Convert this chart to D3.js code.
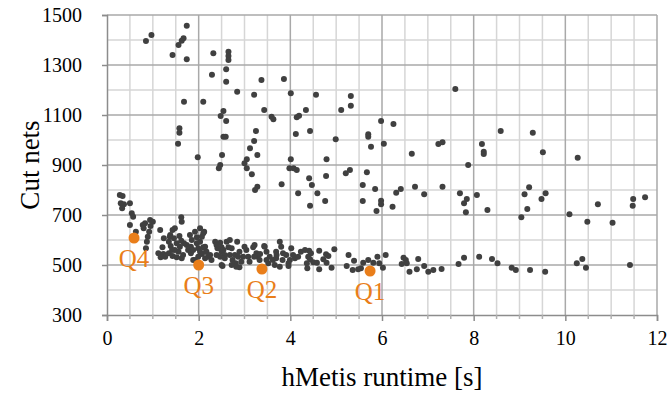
<!DOCTYPE html>
<html>
<head>
<meta charset="utf-8">
<script src="https://cdn.jsdelivr.net/npm/d3@7"></script>
<style>
  html, body { margin: 0; padding: 0; background: #fff; }
</style>
</head>
<body>
<svg id="chart" width="668" height="395"></svg>
<script>
// runtime [s] and cut nets for each hMetis run
const runtime = [
  1.74, 0.97, 0.85, 1.67, 1.63, 1.56, 1.43, 1.74, 2.32, 2.65, 2.65, 2.65, 2.60, 2.29, 2.60, 2.84,
  3.37, 3.86, 3.21, 4.01, 1.68, 2.10, 2.54, 2.48, 2.60, 3.43, 3.59, 3.63, 4.14, 4.19, 1.58, 1.58,
  1.55, 2.54, 2.59, 3.25, 3.21, 3.12, 3.28, 4.12, 1.98, 2.51, 3.05, 3.00, 4.01, 2.47, 2.44, 3.05,
  3.98, 4.56, 5.32, 5.32, 4.34, 5.11, 4.43, 4.99, 5.70, 5.70, 5.76, 5.98, 6.25, 6.04, 7.60, 6.65,
  7.23, 7.32, 8.18, 8.22, 8.22, 7.88, 4.79, 4.07, 4.14, 5.30, 8.59, 9.29, 9.51, 10.27, 3.16, 3.28,
  3.23, 3.81, 4.17, 4.41, 4.47, 4.78, 4.59, 4.43, 4.76, 5.21, 5.67, 5.58, 5.85, 5.58, 5.98, 5.98,
  5.88, 6.23, 6.31, 6.41, 6.72, 6.92, 7.32, 7.70, 7.79, 7.85, 7.83, 8.07, 8.30, 9.11, 9.21, 9.17,
  9.04, 9.48, 9.57, 10.09, 10.48, 10.71, 11.03, 11.48, 11.47, 11.74,
  0.28, 0.34, 0.30, 0.37, 0.33, 0.50, 0.54, 0.57, 0.50, 0.63, 0.78, 0.83, 0.94, 1.00, 0.95, 0.92,
  0.89, 0.87, 0.85, 0.80, 1.16, 1.24, 1.38, 1.35, 1.21, 1.12, 1.23, 1.17, 1.35, 1.27,
  1.37, 1.43, 1.48, 1.46, 1.39, 1.42, 1.43, 1.52, 1.56, 1.59, 1.62, 1.58, 1.68, 1.62, 1.63,
  1.52, 1.66, 1.63, 1.74, 1.77, 1.83, 1.48,
  1.81, 1.85, 1.83, 1.88, 1.88, 1.92, 1.96, 2.03, 2.07, 2.12, 2.03, 2.10, 2.16, 2.07, 2.21, 2.28,
  1.96, 1.99, 2.14, 2.03, 1.99, 1.92, 2.17, 2.25, 2.14, 2.10,
  2.36, 2.41, 2.47, 2.50, 2.52, 2.61, 2.65, 2.57, 2.68, 2.74, 2.81, 2.84, 2.89,
  2.39, 2.50, 2.39, 2.47, 2.57, 2.54, 2.68, 2.72, 2.79, 2.50, 2.72,
  3.00, 3.04, 2.89, 2.97, 2.86, 3.08, 3.11, 2.93, 2.82, 3.22, 3.26, 3.29, 3.33, 3.44, 3.48, 3.55,
  3.48, 3.62, 3.69, 3.77, 3.80, 3.69, 3.84, 3.91, 4.02, 4.06, 3.99, 4.10, 3.96, 3.66, 3.77, 4.17,
  3.19, 3.21, 3.34, 3.43, 3.52, 3.70, 3.83, 3.96,
  4.23, 4.32, 4.41, 4.45, 4.39, 4.43, 4.36, 4.37, 4.50, 4.58, 4.63, 4.63, 4.78, 4.83, 4.72, 4.79,
  4.90, 4.96, 5.27, 5.23, 5.36, 5.39, 5.48, 5.54, 5.59, 5.70, 5.81, 5.90, 5.94, 6.02, 6.08, 6.47,
  6.52, 6.43, 6.54, 6.60, 6.76, 6.79, 6.92, 7.01, 7.12, 7.30, 7.67, 7.79, 8.12, 8.40, 8.52, 8.83,
  8.92, 9.23, 9.56, 10.25, 10.37, 10.45, 11.41
];
const cutNets = [
  1457, 1420, 1396, 1407, 1397, 1380, 1340, 1323, 1347, 1353, 1336, 1320, 1283, 1261, 1233, 1193,
  1240, 1244, 1181, 1187, 1153, 1153, 1116, 1096, 1076, 1120, 1093, 1083, 1091, 1097, 1047, 1029,
  985, 1013, 1013, 1036, 996, 967, 940, 1024, 931, 940, 923, 907, 923, 900, 887, 887,
  887, 1181, 1176, 1137, 1120, 1120, 1036, 1003, 1023, 1013, 973, 1076, 1064, 985, 1204, 945,
  984, 991, 984, 953, 944, 900, 923, 887, 880, 880, 1036, 1029, 951, 929, 863, 813,
  800, 823, 787, 847, 820, 856, 787, 737, 756, 867, 871, 820, 804, 756, 757, 743,
  716, 733, 789, 804, 813, 783, 813, 787, 747, 764, 711, 780, 720, 783, 811, 724,
  691, 764, 787, 703, 673, 743, 669, 764, 737, 771,
  780, 776, 747, 743, 727, 747, 707, 693, 660, 633, 660, 667, 680, 673, 656, 633,
  613, 593, 567, 647, 640, 607, 620, 593, 571, 547, 544, 531, 547, 533,
  613, 640, 647, 607, 576, 560, 536, 531, 553, 573, 597, 616, 587, 691, 673,
  587, 540, 527, 580, 560, 547, 560,
  620, 600, 573, 560, 520, 633, 611, 647, 613, 633, 593, 571, 553, 544, 533, 520,
  587, 567, 573, 553, 533, 520, 553, 540, 527, 627,
  593, 567, 589, 571, 496, 593, 571, 540, 540, 520, 507, 593, 491,
  580, 553, 540, 533, 527, 560, 600, 567, 540, 500, 500,
  573, 560, 553, 533, 533, 533, 513, 513, 493, 580, 547, 533, 520, 573, 553, 533,
  520, 520, 527, 593, 573, 553, 547, 540, 567, 540, 520, 527, 507, 500, 493, 533,
  571, 533, 544, 576, 507, 540, 520, 496,
  553, 560, 557, 547, 533, 523, 507, 487, 511, 509, 557, 483, 543, 536, 523, 509,
  489, 563, 540, 496, 480, 517, 483, 487, 509, 520, 509, 533, 507, 489, 540, 529,
  520, 504, 507, 473, 483, 524, 496, 473, 480, 484, 504, 529, 533, 524, 507, 489,
  480, 480, 473, 507, 524, 489, 500
];

// highlighted quartile runs
const qLabels = ["Q4", "Q3", "Q2", "Q1"];
const qRuntime = [0.59, 2.0, 3.38, 5.74];
const qCutNets = [608, 500, 484, 476];

const xTicks = [0, 2, 4, 6, 8, 10, 12];
const yTicks = [300, 500, 700, 900, 1100, 1300, 1500];

const width = 668, height = 395;
const margin = { top: 15, right: 11, bottom: 80, left: 107 };
const serif = '"Times New Roman", "Liberation Serif", "DejaVu Serif", serif';

const svg = d3.select('#chart');

const x = d3.scaleLinear().domain([0, 12]).range([margin.left, width - margin.right]);
const y = d3.scaleLinear().domain([300, 1500]).range([height - margin.bottom, margin.top]);

// grid: light minor lines, darker ones at the labelled values
const minorX = d3.range(0.5, 12, 0.5).filter((v) => v % 2 !== 0);
const grid = svg.append('g');
grid.selectAll('line.vmin')
  .data(minorX)
  .join('line')
  .attr('x1', (d) => x(d)).attr('x2', (d) => x(d))
  .attr('y1', y(300)).attr('y2', y(1500))
  .attr('stroke', '#d6d6d6').attr('stroke-width', 1.5);
grid.selectAll('line.hmin')
  .data(d3.range(400, 1500, 200))
  .join('line')
  .attr('x1', x(0)).attr('x2', x(12))
  .attr('y1', (d) => y(d)).attr('y2', (d) => y(d))
  .attr('stroke', '#d6d6d6').attr('stroke-width', 1.5);
grid.selectAll('line.vmaj')
  .data(xTicks.slice(1))
  .join('line')
  .attr('x1', (d) => x(d)).attr('x2', (d) => x(d))
  .attr('y1', y(300)).attr('y2', y(1500))
  .attr('stroke', '#a9a9a9').attr('stroke-width', 1.5);
grid.selectAll('line.hmaj')
  .data(yTicks.slice(1))
  .join('line')
  .attr('x1', x(0)).attr('x2', x(12))
  .attr('y1', (d) => y(d)).attr('y2', (d) => y(d))
  .attr('stroke', '#a9a9a9').attr('stroke-width', 1.5);

// axes
const xAxis = svg.append('g')
  .attr('transform', `translate(0,${y(300)})`)
  .call(d3.axisBottom(x).tickValues(xTicks).tickSize(6).tickPadding(10).tickFormat(d3.format('d')));
const yAxis = svg.append('g')
  .attr('transform', `translate(${x(0)},0)`)
  .call(d3.axisLeft(y).tickValues(yTicks).tickSize(5).tickPadding(20).tickFormat(d3.format('d')));

[xAxis, yAxis].forEach((a) => {
  a.attr('font-family', serif).attr('font-size', 20);
  a.select('.domain').attr('stroke', '#8c8c8c').attr('stroke-width', 1.5);
  a.selectAll('.tick line').attr('stroke', '#8c8c8c').attr('stroke-width', 1.5);
  a.selectAll('.tick text').attr('fill', '#000');
});

// small minor ticks under the x axis
svg.append('g').selectAll('line')
  .data(minorX)
  .join('line')
  .attr('x1', (d) => x(d)).attr('x2', (d) => x(d))
  .attr('y1', y(300)).attr('y2', y(300) + 4)
  .attr('stroke', '#b0b0b0').attr('stroke-width', 1.5);

// points
svg.append('g')
  .selectAll('circle')
  .data(d3.range(runtime.length))
  .join('circle')
  .attr('cx', (i) => x(runtime[i]))
  .attr('cy', (i) => y(cutNets[i]))
  .attr('r', 3)
  .attr('fill', '#404040');

// quartile markers
const q = svg.append('g')
  .attr('font-family', serif)
  .selectAll('g')
  .data(d3.range(qLabels.length))
  .join('g');
q.append('circle')
  .attr('cx', (i) => x(qRuntime[i]))
  .attr('cy', (i) => y(qCutNets[i]))
  .attr('r', 5.5)
  .attr('fill', '#e97e1a');
q.append('text')
  .attr('x', (i) => x(qRuntime[i]))
  .attr('y', (i) => y(qCutNets[i]) + 29)
  .attr('text-anchor', 'middle')
  .attr('fill', '#e97e1a')
  .attr('font-size', 25)
  .text((i) => qLabels[i]);

// axis titles
svg.append('text')
  .attr('x', (x(0) + x(12)) / 2)
  .attr('y', 386)
  .attr('text-anchor', 'middle')
  .attr('font-family', serif)
  .attr('font-size', 27)
  .text('hMetis runtime [s]');
svg.append('text')
  .attr('transform', `translate(39,${(y(300) + y(1500)) / 2}) rotate(-90)`)
  .attr('text-anchor', 'middle')
  .attr('font-family', serif)
  .attr('font-size', 27)
  .text('Cut nets');
</script>
</body>
</html>
